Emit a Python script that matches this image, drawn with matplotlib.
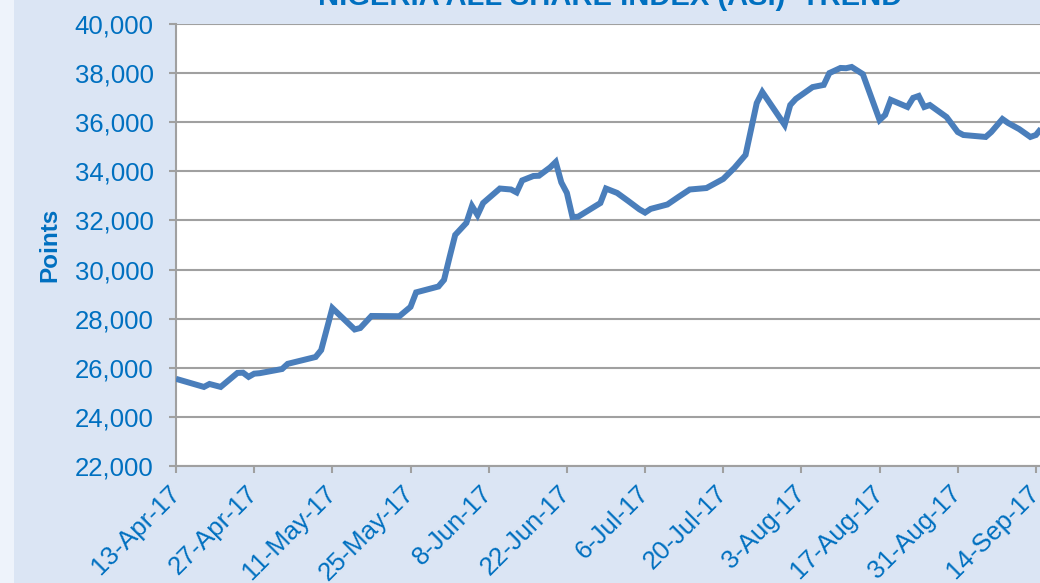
import matplotlib
matplotlib.use('Agg')
import matplotlib.pyplot as plt
import matplotlib.dates as mdates
import matplotlib.ticker as mticker
from matplotlib.patches import Rectangle
import pandas as pd

dates = ["2017-04-13", "2017-04-18", "2017-04-19", "2017-04-21", "2017-04-24", "2017-04-25",
         "2017-04-26", "2017-04-27", "2017-04-28", "2017-05-02", "2017-05-03", "2017-05-08",
         "2017-05-09", "2017-05-11", "2017-05-15", "2017-05-16", "2017-05-18", "2017-05-23",
         "2017-05-25", "2017-05-26", "2017-05-30", "2017-05-31", "2017-06-01", "2017-06-02",
         "2017-06-04", "2017-06-05", "2017-06-06", "2017-06-07", "2017-06-10", "2017-06-12",
         "2017-06-13", "2017-06-14", "2017-06-16", "2017-06-17", "2017-06-19", "2017-06-20",
         "2017-06-21", "2017-06-22", "2017-06-23", "2017-06-24", "2017-06-28", "2017-06-29",
         "2017-07-01", "2017-07-03", "2017-07-05", "2017-07-06", "2017-07-07", "2017-07-10",
         "2017-07-12", "2017-07-14", "2017-07-17", "2017-07-20", "2017-07-22", "2017-07-24",
         "2017-07-26", "2017-07-27", "2017-07-31", "2017-08-01", "2017-08-02", "2017-08-05",
         "2017-08-07", "2017-08-08", "2017-08-10", "2017-08-11", "2017-08-12", "2017-08-14",
         "2017-08-17", "2017-08-18", "2017-08-19", "2017-08-22", "2017-08-23", "2017-08-24",
         "2017-08-25", "2017-08-26", "2017-08-29", "2017-08-31", "2017-09-01", "2017-09-05",
         "2017-09-06", "2017-09-08", "2017-09-09", "2017-09-11", "2017-09-13", "2017-09-14",
         "2017-09-15"]
asi = [25550, 25220, 25340, 25220, 25790, 25800,
       25630, 25760, 25780, 25950, 26160, 26440,
       26720, 28430, 27560, 27620, 28110, 28100,
       28480, 29070, 29310, 29580, 30510, 31410,
       31900, 32590, 32220, 32710, 33300, 33260,
       33140, 33630, 33810, 33820, 34160, 34380,
       33550, 33120, 32140, 32150, 32710, 33300,
       33120, 32790, 32450, 32320, 32470, 32650,
       32960, 33260, 33320, 33690, 34140, 34670,
       36780, 37230, 35890, 36700, 36950, 37430,
       37520, 38000, 38210, 38200, 38250, 37960,
       36090, 36300, 36910, 36620, 36990, 37070,
       36620, 36700, 36210, 35600, 35480, 35400,
       35600, 36130, 35970, 35720, 35400, 35480,
       35760]
tick_dates = ["2017-04-13", "2017-04-27", "2017-05-11", "2017-05-25", "2017-06-08", "2017-06-22",
              "2017-07-06", "2017-07-20", "2017-08-03", "2017-08-17", "2017-08-31", "2017-09-14"]
title = "NIGERIA ALL SHARE INDEX (ASI)  TREND"
ylabel = "Points"

W, H = 1040, 583
BG = "#dbe5f4"
BLUE_TXT = "#0070c0"
LINE = "#4a7ebb"
GRID = "#a0a0a0"

plt.rcParams['font.family'] = ['Liberation Sans', 'DejaVu Sans']

fig = plt.figure(figsize=(W / 100, H / 100), dpi=100, facecolor=BG)
fig.patches.append(Rectangle((0, 0), 14 / W, 1, transform=fig.transFigure,
                             facecolor="#eef3fb", edgecolor="none", zorder=0))

x0 = pd.Timestamp(dates[0])
xmax = x0 + pd.Timedelta(days=160)
left = 176 / W
axw = (176 + 160 * 5.584 - 176) / W
bottom = (H - 466) / H
top = (H - 24) / H
ax = fig.add_axes([left, bottom, axw, top - bottom])
ax.set_facecolor("white")

x = pd.to_datetime(dates)
ax.plot(x, asi, color=LINE, lw=4.3, solid_joinstyle='miter', solid_capstyle='butt', zorder=3)

ax.set_xlim(x0, xmax)
ax.set_ylim(22000, 40000)
ax.yaxis.set_major_locator(mticker.MultipleLocator(2000))
ax.yaxis.set_major_formatter(mticker.FuncFormatter(lambda v, p: f"{int(v):,}"))
ax.grid(axis='y', color=GRID, lw=1.5, zorder=1)

ticks = pd.to_datetime(tick_dates)
ax.set_xticks(ticks)
ax.set_xticklabels([t.strftime('%-d-%b-%y') for t in ticks], rotation=45,
                   ha='right', va='center', rotation_mode='anchor')

for s in ['top', 'right']:
    ax.spines[s].set_visible(False)
for s in ['left', 'bottom']:
    ax.spines[s].set_color(GRID)
    ax.spines[s].set_linewidth(1.5)

ax.tick_params(axis='y', colors=GRID, labelcolor=BLUE_TXT, labelsize=18.5,
               length=5, width=1.5, pad=11)
ax.tick_params(axis='x', colors=GRID, labelcolor=BLUE_TXT, labelsize=18.5,
               length=5, width=1.5, pad=12)

ax.set_ylabel(ylabel, color=BLUE_TXT, fontsize=17.5, fontweight='bold', labelpad=10)

fig.text(610 / W, 1 - 5 / H, title, ha='center', va='baseline', color=BLUE_TXT,
         fontsize=21, fontweight='bold')

fig.savefig("out.png", dpi=100, facecolor=BG)
